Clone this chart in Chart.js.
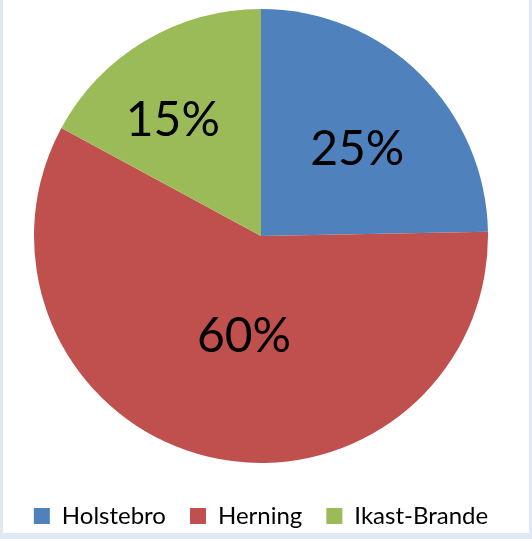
<!DOCTYPE html>
<html>
<head>
<meta charset="utf-8">
<script src="https://cdn.jsdelivr.net/npm/chart.js@4.4.1/dist/chart.umd.min.js"></script>
<style>
  html, body { margin: 0; padding: 0; }
  body { width: 532px; height: 539px; background: #dfe8f3; position: relative; overflow: hidden; }
  #panel { position: absolute; left: 3px; top: 0; width: 526px; height: 533px; background: #ffffff; }
  #wrap { position: absolute; left: 0; top: 0; width: 532px; height: 539px; }
</style>
</head>
<body>
<div id="panel"></div>
<div id="wrap"><canvas id="pieChart"></canvas></div>
<script>
const municipalities = ['Holstebro', 'Herning', 'Ikast-Brande'];
const shares = [24.7, 58.2, 17.1];
// the percentage labels printed on the slices
const shareLabels = ['25%', '60%', '15%'];
const sliceColors = ['#4f81bd', '#c0504d', '#9bbb59'];

// Excel "best fit" label placement: distance factor and angle nudge (deg)
const labelRadius = [0.57, 0.45, 0.64];
const labelNudge = [3.6, -4.1, -6.6];

const pctLabels = {
    id: 'pctLabels',
    afterDatasetsDraw(chart) {
        const ctx = chart.ctx;
        const meta = chart.getDatasetMeta(0);
        ctx.save();
        ctx.font = '48px Lato';
        ctx.fillStyle = '#000000';
        ctx.textAlign = 'center';
        ctx.textBaseline = 'middle';
        meta.data.forEach((arc, i) => {
            const mid = (arc.startAngle + arc.endAngle) / 2 + labelNudge[i] * Math.PI / 180;
            const r = arc.outerRadius * labelRadius[i];
            const x = arc.x + Math.cos(mid) * r;
            const y = arc.y + Math.sin(mid) * r;
            ctx.fillText(shareLabels[i], x, y);
        });
        ctx.restore();
    }
};

const ctx = document.getElementById('pieChart').getContext('2d');
const chart = new Chart(ctx, {
    type: 'pie',
    data: {
        labels: municipalities,
        datasets: [{
            data: shares,
            backgroundColor: sliceColors,
            borderWidth: 0,
        }],
    },
    options: {
        responsive: true,
        maintainAspectRatio: false,
        animation: false,
        layout: { padding: { top: 9, left: 0, right: 10, bottom: 1 } },
        plugins: {
            tooltip: { enabled: false },
            legend: {
                position: 'bottom',
                // empty title only used as a spacer above the legend row
                title: { display: true, text: '', padding: 0, font: { size: 17, lineHeight: 1 } },
                labels: {
                    boxWidth: 16,
                    boxHeight: 16,
                    padding: 24,
                    color: '#000000',
                    font: { family: 'Lato', size: 24 },
                },
            },
        },
    },
    plugins: [pctLabels],
});
</script>
</body>
</html>
